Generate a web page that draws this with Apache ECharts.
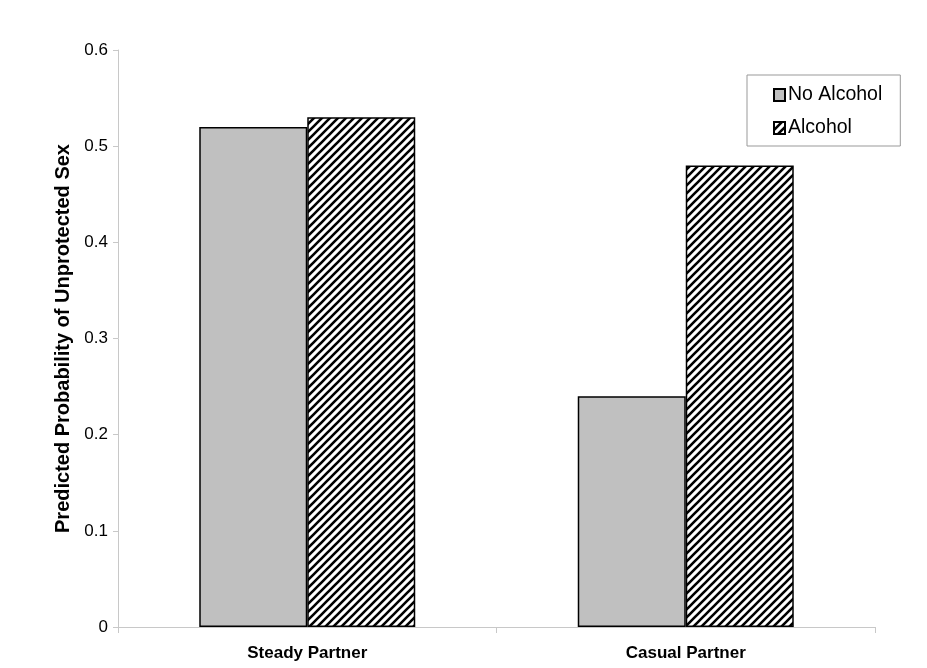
<!DOCTYPE html>
<html>
<head>
<meta charset="utf-8">
<script src="https://cdn.jsdelivr.net/npm/echarts@6/dist/echarts.min.js"></script>
<style>
html,body{margin:0;padding:0;background:#fff;}
#chart{width:927px;height:668px;}
</style>
</head>
<body>
<div id="chart"></div>
<script>
var categories = ["Steady Partner", "Casual Partner"];
var seriesNames = ["No Alcohol", "Alcohol"];
var noAlcohol = [0.52, 0.24];
var alcohol = [0.53, 0.48];
var yTicks = [0, 0.1, 0.2, 0.3, 0.4, 0.5, 0.6];

function makeHatch() {
  var c = document.createElement('canvas');
  c.width = 8; c.height = 8;
  var ctx = c.getContext('2d');
  ctx.fillStyle = '#fff';
  ctx.fillRect(0, 0, 8, 8);
  ctx.strokeStyle = '#000';
  ctx.lineWidth = 2.6;
  ctx.beginPath();
  ctx.moveTo(-2, 2); ctx.lineTo(2, -2);
  ctx.moveTo(0, 8); ctx.lineTo(8, 0);
  ctx.moveTo(6, 10); ctx.lineTo(10, 6);
  ctx.stroke();
  return c;
}

var chart = echarts.init(document.getElementById('chart'), null, {renderer: 'canvas'});
var font = "'Liberation Sans', Arial, sans-serif";
chart.setOption({
  animation: false,
  backgroundColor: '#fff',
  grid: {left: 118, right: 52, top: 50, bottom: 41},
  legend: {
    orient: 'vertical',
    left: 747, top: 75,
    padding: [10, 18, 8, 26],
    itemGap: 13,
    itemWidth: 11, itemHeight: 12,
    borderColor: '#999', borderWidth: 1,
    textStyle: {fontFamily: font, fontSize: 19.5, color: '#000', padding: [0, 0, 0, -2]},
    data: [
      {name: seriesNames[0], icon: 'rect'},
      {name: seriesNames[1], icon: 'rect'}
    ]
  },
  xAxis: {
    type: 'category',
    data: categories,
    axisLine: {lineStyle: {color: '#c8c8c8', width: 1}},
    axisTick: {show: true, length: 6, lineStyle: {color: '#c8c8c8'}},
    axisLabel: {fontFamily: font, fontSize: 17, fontWeight: 'bold', color: '#000', margin: 18}
  },
  yAxis: {
    type: 'value',
    min: yTicks[0], max: yTicks[yTicks.length - 1], interval: 0.1,
    name: 'Predicted Probability of Unprotected Sex',
    nameLocation: 'middle',
    nameGap: 40,
    nameTextStyle: {fontFamily: font, fontSize: 20, fontWeight: 'bold', color: '#000'},
    axisLine: {show: true, lineStyle: {color: '#c8c8c8'}},
    axisTick: {show: true, length: 5, lineStyle: {color: '#c8c8c8'}},
    splitLine: {show: false},
    axisLabel: {fontFamily: font, fontSize: 17, color: '#000', margin: 10,
      formatter: function (v) { return String(Math.round(v * 10) / 10); }}
  },
  series: [
    {
      name: seriesNames[0], type: 'bar', data: noAlcohol,
      barWidth: 108, barGap: '0%',
      itemStyle: {color: '#c0c0c0', borderColor: '#000', borderWidth: 1.5}
    },
    {
      name: seriesNames[1], type: 'bar', data: alcohol,
      barWidth: 108, barGap: '0%',
      itemStyle: {color: {image: makeHatch(), repeat: 'repeat'}, borderColor: '#000', borderWidth: 1.5}
    }
  ]
});
</script>
</body>
</html>
